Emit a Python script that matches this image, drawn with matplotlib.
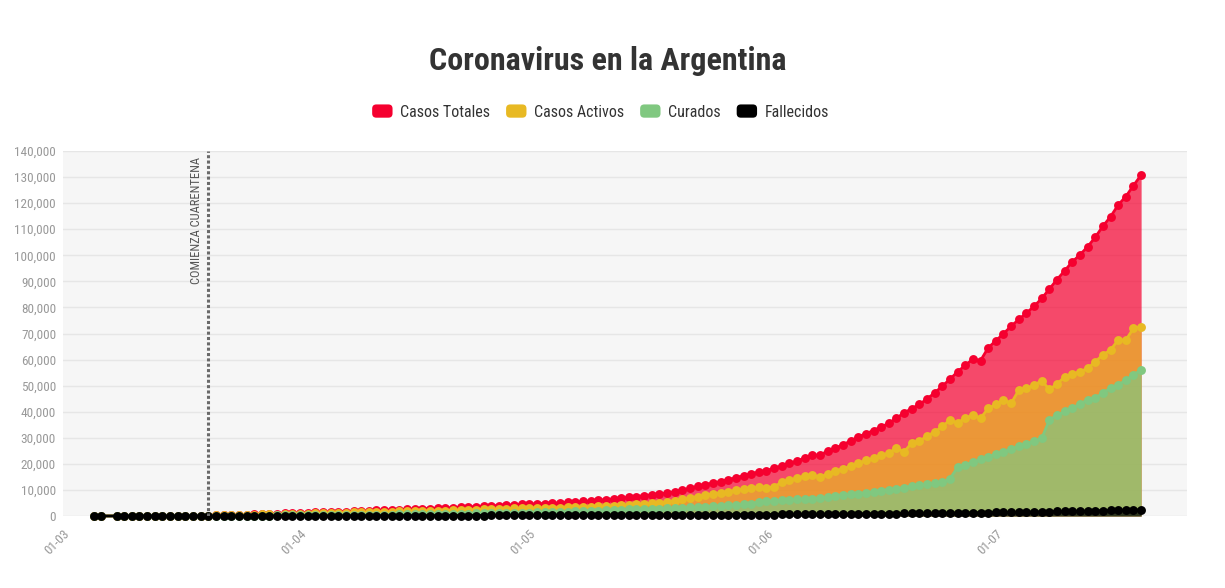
import matplotlib
matplotlib.use("Agg")
import matplotlib.pyplot as plt
import matplotlib.dates as mdates
from matplotlib.patches import Patch, FancyBboxPatch
from matplotlib.legend_handler import HandlerPatch
import pandas as pd

plt.rcParams['font.family'] = ['Roboto Condensed', 'Liberation Sans Narrow', 'DejaVu Sans']

# ---------------- data ----------------
dates = [d for d in pd.date_range("2020-03-05", "2020-07-20") if d != pd.Timestamp("2020-03-07")]

casos_totales = (
    [2, 8, 12, 17, 19, 21, 31, 34, 45, 56, 65, 79, 97, 128, 158, 225, 266, 301, 387, 502, 589, 690, 745, 820, 966, 1054]
    + [1133, 1265, 1353, 1451, 1554, 1628, 1715, 1795, 1894, 1975, 2142, 2208, 2277, 2443, 2571, 2669, 2758, 2839, 2941, 3031,
       3144, 3288, 3435, 3607, 3780, 3892, 4003, 4127, 4285, 4428]
    + [4532, 4681, 4783, 4887, 5020, 5208, 5371, 5611, 5776, 6034, 6278, 6563, 6879, 7134, 7479, 7805, 8068, 8371, 8809, 9283,
       9931, 10649, 11353, 12076, 12628, 13228, 13933, 14702, 15419, 16214, 16838]
    + [17415, 18319, 19268, 20197, 21037, 22300, 23300, 23400, 24900, 25987, 27373, 28764, 30295, 31577, 32785, 34159, 35552,
       37510, 39570, 41204, 42785, 44931, 47216, 49851, 52457, 55343, 57744, 60200, 59600, 64530]
    + [67197, 69941, 72786, 75376, 77815, 80447, 83426, 87030, 90693, 94060, 97509, 100166, 103265, 106910, 111160, 114783,
       119301, 122524, 126755, 130774]
)

casos_activos = (
    [2, 8, 11, 15, 17, 19, 29, 32, 43, 54, 63, 77, 95, 122, 152, 194, 235, 243, 329, 442, 514, 601, 654, 569, 702, 779]
    + [840, 958, 1029, 1078, 1168, 1215, 1287, 1350, 1393, 1451, 1583, 1596, 1616, 1738, 1819, 1855, 1915, 1965, 2014, 2043,
       2129, 2249, 2347, 2450, 2562, 2591, 2661, 2757, 2878, 2960]
    + [3020, 3089, 3098, 3116, 3167, 3276, 3334, 3462, 3537, 3665, 3794, 3974, 4165, 4247, 4498, 4733, 4898, 5116, 5463, 5819,
       6339, 6921, 7440, 8031, 8446, 8840, 9300, 9849, 10282, 10897, 10963]
    + [10700, 11200, 13000, 13700, 14500, 15300, 15700, 14800, 16300, 17300, 18100, 19100, 20200, 21300, 22100, 23300, 24000,
       26200, 24600, 28000, 28600, 30800, 32200, 34400, 36800, 35700, 37600, 38700, 37500, 41300]
    + [42800, 44500, 43200, 48300, 49000, 50200, 51900, 48600, 50600, 53400, 54300, 55400, 56600, 59200, 61800, 63700,
       67500, 67500, 72000, 72600]
)

curados = (
    [0] * 13 + [3, 3, 27, 27, 52, 52, 52, 63, 72, 72, 228, 240, 248]
    + [256, 265, 280, 325, 338, 358, 365, 375, 419, 440, 468, 515, 559, 596, 629, 685, 709, 737, 785, 840,
       863, 880, 919, 976, 1030, 1107, 1140, 1162, 1192, 1245]
    + [1284, 1354, 1442, 1524, 1587, 1659, 1757, 1862, 1944, 2064, 2169, 2266, 2385, 2534, 2625, 2709, 2797, 2872, 2953, 3063,
       3183, 3310, 3478, 3600, 3732, 3904, 4135, 4345, 4617, 4789, 5336]
    + [5600, 5750, 5950, 6150, 6350, 6550, 6700, 6950, 7250, 7600, 7950, 8250, 8600, 8950, 9300, 9750, 10150, 10500, 10900,
       11350, 11750, 12150, 12550, 13000, 14300, 18700, 19600, 20600, 21700, 22700]
    + [23700, 24600, 25700, 26800, 27700, 28700, 29800, 36800, 38700, 40100, 41400, 43000, 44600, 45200, 47300, 49000,
       50300, 52100, 54200, 56000]
)

fallecidos = (
    [0, 0, 1, 2, 2, 2, 2, 2, 2, 2, 2, 2, 2, 3, 3, 4, 4, 6, 6, 8, 12, 17, 19, 23, 24, 27]
    + [37, 42, 44, 48, 48, 55, 63, 70, 82, 84, 91, 97, 102, 109, 123, 129, 134, 137, 142, 148, 152, 159, 169, 181, 188, 194,
       202, 208, 215, 223]
    + [228, 238, 243, 247, 266, 273, 280, 287, 295, 305, 315, 323, 329, 353, 356, 363, 373, 383, 393, 401, 409, 418, 435, 445,
       450, 484, 498, 508, 520, 528, 539]
    + [556, 569, 583, 608, 632, 648, 664, 693, 717, 735, 765, 785, 815, 833, 854, 878, 913, 948, 979, 992, 1011, 1043, 1078,
       1116, 1150, 1184, 1207, 1232, 1280, 1307]
    + [1351, 1385, 1406, 1490, 1523, 1582, 1644, 1694, 1774, 1810, 1845, 1859, 1903, 2007, 2054, 2112, 2220, 2260, 2348, 2398]
)

series_names = ["Casos Totales", "Casos Activos", "Curados", "Fallecidos"]
series_colors = ["#F5002F", "#E8B923", "#80C880", "#000000"]
series_values = [casos_totales, casos_activos, curados, fallecidos]

tick_dates = pd.to_datetime(["2020-03-01", "2020-04-01", "2020-05-01", "2020-06-01", "2020-07-01"])
tick_labels = ["01-03", "01-04", "01-05", "01-06", "01-07"]
quarantine_date = pd.Timestamp("2020-03-20")
quarantine_label = "COMIENZA CUARENTENA"
title = "Coronavirus en la Argentina"

# ---------------- figure ----------------
W, H = 1225, 588
fig = plt.figure(figsize=(W / 100, H / 100), dpi=100)
ax = fig.add_axes([63 / W, 72 / H, (1187 - 63) / W, (516 - 151) / H])
ax.set_facecolor("#F6F6F6")

for vals, c in zip(series_values, series_colors):
    ax.fill_between(dates, 0, vals, color=c, alpha=0.7, linewidth=0, zorder=2)
for vals, c in zip(series_values, series_colors):
    ax.plot(dates, vals, color=c, lw=2, marker="o", ms=6.4, mec=c, mew=0, zorder=3, clip_on=False)

ax.set_ylim(0, 140000)
ax.set_xlim(pd.Timestamp("2020-03-01"), pd.Timestamp("2020-07-26"))
ax.set_yticks(range(0, 140001, 10000))
ax.set_yticklabels([f"{v:,}" for v in range(0, 140001, 10000)])
ax.set_xticks(tick_dates)
ax.set_xticklabels(tick_labels, rotation=45, ha="right", rotation_mode="anchor")
ax.tick_params(axis="both", length=0, labelsize=9.5, colors="#999999")
ax.tick_params(axis="y", pad=5)
ax.tick_params(axis="x", pad=8)
ax.yaxis.grid(True, color="#E6E6E6", lw=1, zorder=0)
ax.set_axisbelow(True)
for s in ax.spines.values():
    s.set_visible(False)

ax.axvline(quarantine_date, color="#6A6A6A", lw=2.2, linestyle=(0, (1, 0.75)), zorder=4)
ax.annotate(quarantine_label, xy=(quarantine_date, 140000), xytext=(-5, -6), textcoords="offset pixels",
            rotation=90, ha="right", va="top", fontsize=9, color="#555555")

fig.text(608 / W, 1 - 61 / H, title, ha="center", va="center", fontsize=23, fontweight="bold", color="#333333")


class RoundHandler(HandlerPatch):
    def create_artists(self, legend, orig_handle, xdescent, ydescent, width, height, fontsize, trans):
        p = FancyBboxPatch((-xdescent + 1, -ydescent), width - 2, height,
                           boxstyle="round,pad=0,rounding_size=3",
                           facecolor=orig_handle.get_facecolor(), edgecolor="none", transform=trans)
        return [p]


handles = [Patch(facecolor=c) for c in series_colors]
fig.legend(handles, series_names, loc="center", bbox_to_anchor=(600 / W, 1 - 112 / H), ncol=4, frameon=False,
           fontsize=11.5, handlelength=1.45, handleheight=0.9, columnspacing=0.9, handletextpad=0.4,
           labelcolor="#333333", handler_map={Patch: RoundHandler()})

fig.savefig("out.png", dpi=100, facecolor="white")
